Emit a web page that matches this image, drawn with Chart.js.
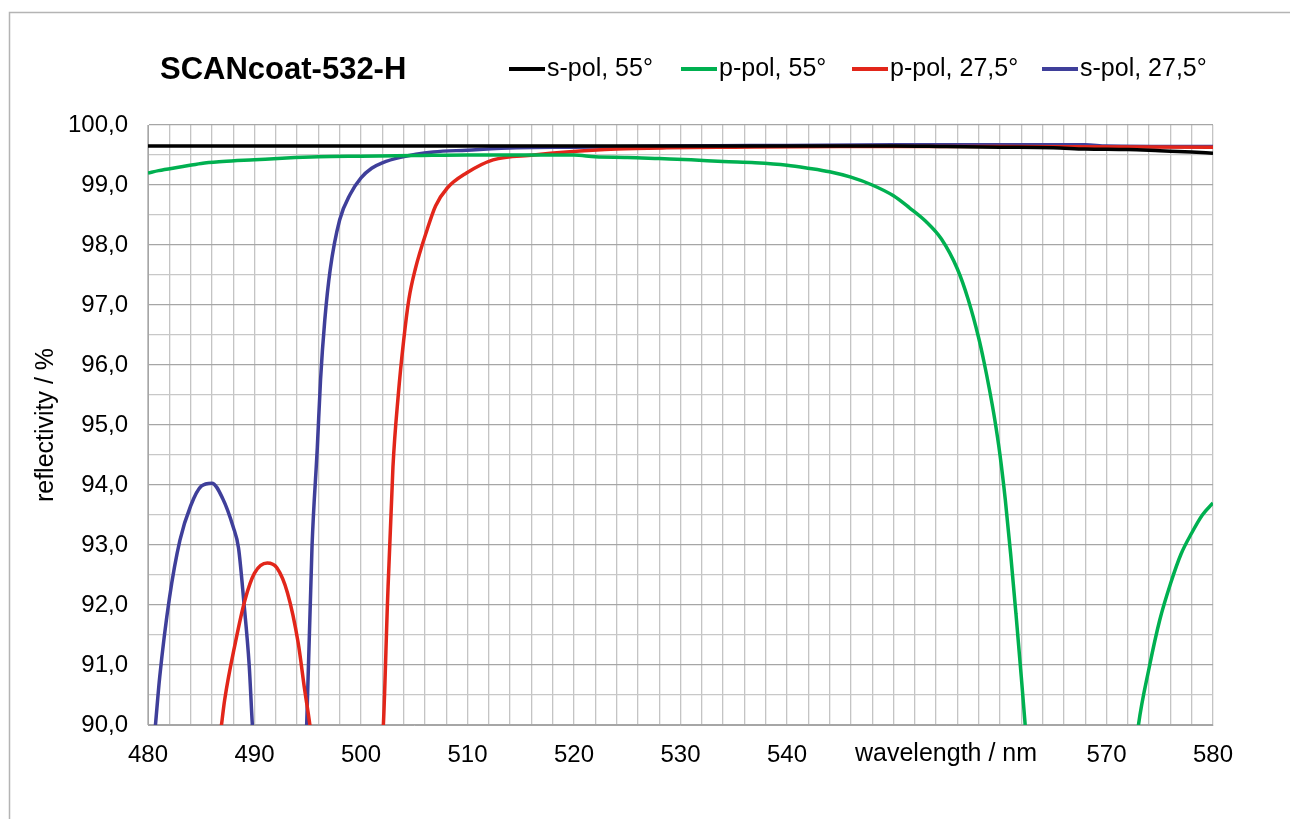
<!DOCTYPE html>
<html>
<head>
<meta charset="utf-8">
<script src="https://cdn.jsdelivr.net/npm/chart.js@4/dist/chart.umd.min.js"></script>
<style>
  html, body { margin: 0; padding: 0; background: #fff; }
  #wrap { width: 1290px; height: 819px; position: relative; }
</style>
</head>
<body>
<div id="wrap"><canvas id="c" width="1290" height="819"></canvas></div>
<script>
// ── SCANcoat-532-H reflectivity ──

// s-pol, 55°
const s55_nm = [480, 550, 555, 560, 565, 568, 572, 575, 578, 580];
const s55_R  = [99.65, 99.65, 99.64, 99.63, 99.62, 99.6, 99.59, 99.57, 99.55, 99.53];

// p-pol, 55°
const p55_nm = [480, 481, 483, 485, 487, 490, 493, 496, 500, 505, 510, 515, 520, 522, 525, 528, 531, 534, 537, 540,
                542, 544, 546, 548, 550, 551.5, 553, 554.5, 556, 557, 558, 558.5, 559, 559.5, 560, 560.5, 561, 561.5, 562, 562.5, 563,
                567, 572.5, 573, 574, 575, 576, 577, 578, 579, 580];
const p55_R  = [99.2, 99.24, 99.3, 99.36, 99.39, 99.42, 99.45, 99.47, 99.48, 99.49, 99.5, 99.5, 99.5, 99.47, 99.46, 99.44, 99.42, 99.39, 99.37, 99.33,
                99.28, 99.22, 99.13, 99.0, 98.82, 98.62, 98.4, 98.1, 97.6, 97.1, 96.45, 96.05, 95.6, 95.1, 94.5, 93.75, 92.85, 91.85, 90.8, 89.7, 88.6,
                80.0, 89.2, 90.0, 90.95, 91.75, 92.35, 92.85, 93.2, 93.5, 93.7];

// p-pol, 27,5°
const p27_nm = [486.5, 486.9, 487.2, 488.2, 489.1, 490, 491.2, 492.1, 493.1, 494.1, 494.7, 495.2, 495.6, 498.5, 501.8,
                502.1, 502.5, 503, 503.5, 504, 504.5, 505.1, 506.2, 507, 508.1, 509.9, 512.4, 516.2, 519.3, 524, 528.7, 535, 545, 560, 580];
const p27_R  = [89.4, 90.0, 90.42, 91.37, 92.08, 92.53, 92.7, 92.62, 92.2, 91.37, 90.6, 90.0, 89.4, 80.0, 89.4,
                90.0, 92.1, 94.3, 95.5, 96.4, 97.1, 97.6, 98.25, 98.65, 98.95, 99.2, 99.42, 99.5, 99.55, 99.6, 99.62, 99.63, 99.64, 99.64, 99.63];

// s-pol, 27,5°
const s27_nm = [480.4, 480.7, 481.1, 482, 483, 484, 485, 486, 487, 488, 488.5, 489, 489.5, 489.8, 490.2, 492.5, 494.6,
                494.9, 495.4, 495.9, 496.2, 496.6, 497.1, 498, 499, 500, 501, 502, 503.7, 506.8, 509.9, 514.6, 520,
                530, 540, 550, 560, 568, 570, 580];
const s27_R  = [89.4, 90.0, 90.8, 92.1, 93.08, 93.65, 93.98, 94.03, 93.78, 93.3, 92.95, 92.05, 91.0, 90.0, 89.0, 80.0, 89.0,
                90.0, 92.97, 94.63, 95.75, 96.75, 97.58, 98.42, 98.85, 99.12, 99.28, 99.37, 99.46, 99.55, 99.58, 99.62, 99.63,
                99.65, 99.66, 99.67, 99.67, 99.67, 99.65, 99.64];

const X_MIN = 480, X_MAX = 580;
const Y_MIN = 90, Y_MAX = 100;
const TITLE = 'SCANcoat-532-H';
const X_TITLE = 'wavelength / nm';
const Y_TITLE = 'reflectivity / %';

const FONT = '"Liberation Sans", Arial, sans-serif';
const pts = (xs, ys) => xs.map((x, i) => ({ x, y: ys[i] }));

function series(label, xs, ys, color) {
  return {
    label,
    data: pts(xs, ys),
    borderColor: color,
    backgroundColor: color,
    borderWidth: 3.5,
    pointRadius: 0,
    cubicInterpolationMode: 'monotone',
    fill: false,
  };
}

// rahmen, titel, legende und achsentitel
const decor = {
  id: 'decor',
  beforeDraw(chart) {
    const ctx = chart.ctx;
    ctx.save();
    ctx.fillStyle = '#fff';
    ctx.fillRect(0, 0, chart.width, chart.height);
    ctx.strokeStyle = '#b4b4b4';
    ctx.lineWidth = 1.5;
    ctx.strokeRect(9.5, 12.5, 1400, 1000);
    ctx.restore();
  },
  afterDraw(chart) {
    const ctx = chart.ctx;
    const a = chart.chartArea;
    ctx.save();
    ctx.fillStyle = '#000';
    ctx.textBaseline = 'middle';

    ctx.font = 'bold 31px ' + FONT;
    ctx.textAlign = 'left';
    ctx.fillText(TITLE, 160, 70);

    // legende
    const legX = [509, 681, 852, 1042];
    ctx.font = '25px ' + FONT;
    chart.data.datasets.forEach((ds, i) => {
      const x = legX[i];
      ctx.strokeStyle = ds.borderColor;
      ctx.lineWidth = 4;
      ctx.beginPath();
      ctx.moveTo(x, 69);
      ctx.lineTo(x + 36, 69);
      ctx.stroke();
      ctx.fillText(ds.label, x + 38, 69);
    });

    // achsentitel
    ctx.font = '25px ' + FONT;
    ctx.textAlign = 'left';
    ctx.fillText(X_TITLE, 855, 754);

    ctx.translate(46, (a.top + a.bottom) / 2);
    ctx.rotate(-Math.PI / 2);
    ctx.textAlign = 'center';
    ctx.fillText(Y_TITLE, 0, 0);
    ctx.restore();
  }
};

new Chart(document.getElementById('c'), {
  type: 'line',
  data: {
    datasets: [
      series('s-pol, 55°',   s55_nm, s55_R, '#000000'),
      series('p-pol, 55°',   p55_nm, p55_R, '#00B050'),
      series('p-pol, 27,5°', p27_nm, p27_R, '#E2261A'),
      series('s-pol, 27,5°', s27_nm, s27_R, '#3F3F9A'),
    ]
  },
  options: {
    responsive: false,
    animation: false,
    devicePixelRatio: 1,
    layout: { padding: { left: 0, top: 125, right: 77, bottom: 0 } },
    plugins: { legend: { display: false }, title: { display: false }, tooltip: { enabled: false } },
    scales: {
      x: {
        type: 'linear',
        min: X_MIN, max: X_MAX,
        afterFit: s => { s.height = 94; },
        border: { color: '#a6a6a6', width: 1 },
        grid: { color: '#c4c4c4', lineWidth: 1.3, drawTicks: false, tickLength: 0 },
        ticks: {
          stepSize: 2,
          autoSkip: false,
          maxRotation: 0,
          padding: 16,
          color: '#000',
          font: { family: FONT, size: 24 },
          callback: v => (v % 10 === 0 && v !== 550 && v !== 560) ? String(v) : '',
        }
      },
      y: {
        min: Y_MIN, max: Y_MAX,
        afterFit: s => { s.width = 148; },
        border: { color: '#a6a6a6', width: 1 },
        grid: {
          color: c => (c.tick && Number.isInteger(c.tick.value)) ? '#a6a6a6' : '#c8c8c8',
          lineWidth: 1.3, drawTicks: false, tickLength: 0,
        },
        ticks: {
          stepSize: 0.5,
          autoSkip: false,
          padding: 20,
          color: '#000',
          font: { family: FONT, size: 24 },
          callback: v => Number.isInteger(v) ? v.toFixed(1).replace('.', ',') : '',
        }
      }
    }
  },
  plugins: [decor]
});
</script>
</body>
</html>
